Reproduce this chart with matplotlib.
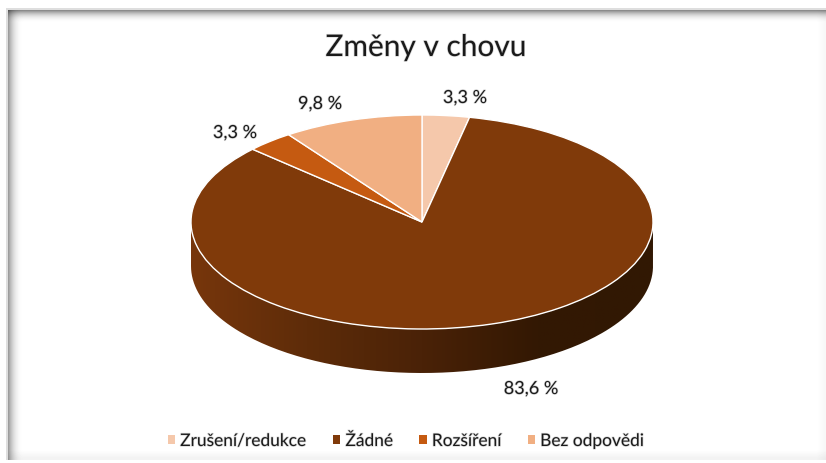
"""Pie of behaviour changes drawn as a flattened disc with an extruded rim."""
import matplotlib
matplotlib.use("Agg")
import matplotlib.pyplot as plt
import matplotlib.patheffects as pe
from matplotlib.colors import LinearSegmentedColormap
from matplotlib.patches import PathPatch
from matplotlib.path import Path
import numpy as np

W, H = 826, 464

title = "Změny v chovu"
categories = ["Zrušení/redukce", "Žádné", "Rozšíření", "Bez odpovědi"]
values = [3.3, 83.6, 3.3, 9.8]
colors = ["#F5C8AB", "#803A0A", "#C55A11", "#F1AF82"]
label_pos = [(465, 99), (531, 390), (235, 134), (320, 105)]

plt.rcParams["font.family"] = ["Lato", "DejaVu Sans"]
SOFT = [pe.withStroke(linewidth=1.0, foreground="#d8d8d8")]


def frame_image():
    # card with a grey inner shadow on the top and left, faint on the others
    x = np.arange(W) + 0.5
    y = np.arange(H) + 0.5
    left = np.clip((x - 8) / 16, 0, 1)
    top = np.clip((y - 11) / 14, 0, 1)
    right = np.clip((W - 1 - x) / 8, 0, 1)
    bottom = np.clip((H - 5 - y) / 8, 0, 1)
    img = np.outer((1 - 0.5 * (1 - top) ** 2.5) * (1 - 0.05 * (1 - bottom)),
                   (1 - 0.42 * (1 - left) ** 2.5) * (1 - 0.03 * (1 - right)))
    img[:9, :] = 1.0
    img[:, :6] = 1.0
    img[9:11, 6:] = 0.87
    img[9:, 6:8] = 0.87
    img[-3:, :] = 1.0
    return img


fig = plt.figure(figsize=(W / 100, H / 100), dpi=100)
bg = fig.add_axes([0, 0, 1, 1])
bg.imshow(frame_image(), cmap="gray", vmin=0, vmax=1, aspect="auto")
bg.axis("off")

# disc top spans y 116..330, rim goes down to y 374
x0, x1, y0, y1, y2 = 191, 653, 116, 330, 374
ax = fig.add_axes([x0 / W, 1 - y2 / H, (x1 - x0) / W, (y2 - y0) / H])
ax.patch.set_alpha(0)
depth = 2 * (y2 - y1) / (y1 - y0)

rim = LinearSegmentedColormap.from_list("rim", ["#77360C", "#5E2C09", "#4A2207", "#331803", "#311804"])
grad = ax.imshow(np.linspace(0, 1, 256)[None, :], cmap=rim, aspect="auto",
                 extent=(-1, 1, -1 - depth, 1), zorder=1)
t = np.linspace(np.pi, 2 * np.pi, 200)
verts = np.vstack([np.c_[np.cos(t), np.sin(t)], np.c_[np.cos(t[::-1]), np.sin(t[::-1]) - depth]])
grad.set_clip_path(PathPatch(Path(np.vstack([verts, verts[:1]])), transform=ax.transData))

wedges, _ = ax.pie(values, colors=colors, startangle=90, counterclock=False, radius=1,
                   wedgeprops=dict(edgecolor="white", linewidth=1.0, zorder=2))
ax.set_aspect("auto")
ax.set_xlim(-1, 1)
ax.set_ylim(-1 - depth, 1)
ax.axis("off")
for w in wedges:
    w.set_clip_on(False)

fig.text(426 / W, 1 - 48 / H, title, ha="center", va="center", fontsize=21.5,
         color="#1a1a1a", path_effects=SOFT)
for v, (px, py) in zip(values, label_pos):
    fig.text(px / W, 1 - py / H, f"{v:.1f} %".replace(".", ","), ha="center", va="center",
             fontsize=13, color="#1a1a1a", path_effects=SOFT)

leg = fig.legend(wedges, categories, loc="center", bbox_to_anchor=(406 / W, 1 - 442 / H), ncols=4,
                 frameon=False, fontsize=12.5, handlelength=0.42, handleheight=0.42,
                 handletextpad=0.3, columnspacing=1.5, labelcolor="#1a1a1a")
for h in leg.legend_handles:
    h.set_edgecolor("none")
for tx in leg.get_texts():
    tx.set_path_effects(SOFT)

fig.savefig("out.png", dpi=100)
